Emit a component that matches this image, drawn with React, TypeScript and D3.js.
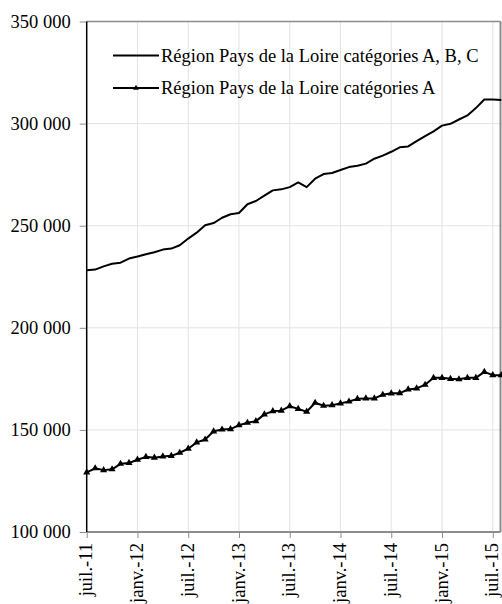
import * as d3 from "d3";
import { useEffect, useRef } from "react";

// monthly values, juil.-11 .. août-15
const months = [
  "juil.-11", "août-11", "sept.-11", "oct.-11", "nov.-11", "déc.-11",
  "janv.-12", "févr.-12", "mars-12", "avr.-12", "mai-12", "juin-12",
  "juil.-12", "août-12", "sept.-12", "oct.-12", "nov.-12", "déc.-12",
  "janv.-13", "févr.-13", "mars-13", "avr.-13", "mai-13", "juin-13",
  "juil.-13", "août-13", "sept.-13", "oct.-13", "nov.-13", "déc.-13",
  "janv.-14", "févr.-14", "mars-14", "avr.-14", "mai-14", "juin-14",
  "juil.-14", "août-14", "sept.-14", "oct.-14", "nov.-14", "déc.-14",
  "janv.-15", "févr.-15", "mars-15", "avr.-15", "mai-15", "juin-15",
  "juil.-15", "août-15",
];

const serieABC = [
  228200, 228500, 230100, 231400, 231900, 233900, 234900, 236000, 237000, 238300,
  238800, 240400, 243700, 246600, 250200, 251300, 253900, 255600, 256200, 260500,
  262100, 264700, 267300, 267800, 268900, 271200, 268900, 273000, 275300, 275800,
  277300, 278700, 279400, 280400, 282800, 284300, 286200, 288400, 288800, 291400,
  293900, 296200, 299000, 299900, 302000, 304000, 307600, 311800, 311800, 311500,
];

const serieA = [
  129200, 131200, 130300, 130700, 133400, 133800, 135400, 136800, 136400, 137000,
  137300, 138800, 140800, 143900, 145300, 149300, 150200, 150400, 152300, 153500,
  154300, 157600, 159200, 159400, 161600, 160300, 158900, 163300, 161800, 162100,
  163000, 163900, 165200, 165400, 165400, 167200, 167900, 168000, 169800, 170300,
  172100, 175500, 175500, 175000, 174800, 175500, 175500, 178400, 176800, 176800,
];

const yTicks = [100000, 150000, 200000, 250000, 300000, 350000];
const legendLabels = [
  "Région Pays de la Loire catégories A, B, C",
  "Région Pays de la Loire catégories A",
];

const W = 502;
const H = 604;
const font = "'Liberation Serif', 'Times New Roman', serif";
const fontSize = 18.5;

const App = () => {
  const svgRef = useRef<SVGSVGElement>(null);

  useEffect(() => {
    const svg = d3.select(svgRef.current);
    svg.selectAll("*").remove();

    const left = 86.7;
    const top = 21.5;
    const right = 500.5;
    const bottom = 532;

    const x = d3.scaleLinear().domain([0, months.length - 1]).range([left, left + 49 * 8.46]);
    const y = d3.scaleLinear().domain([100000, 350000]).range([bottom, top]);

    const xTicks = d3.range(0, months.length, 6);
    const fmt = (v: number) => d3.format(",")(v).replace(/,/g, " ");

    // gridlines
    svg.append("g")
      .selectAll("line")
      .data(xTicks.slice(1))
      .join("line")
      .attr("x1", (d) => x(d)).attr("x2", (d) => x(d))
      .attr("y1", top).attr("y2", bottom)
      .attr("stroke", "#e3e3e3").attr("stroke-width", 1);

    svg.append("g")
      .selectAll("line")
      .data(yTicks.slice(1, -1))
      .join("line")
      .attr("x1", left).attr("x2", right)
      .attr("y1", (d) => y(d)).attr("y2", (d) => y(d))
      .attr("stroke", "#e3e3e3").attr("stroke-width", 1);

    // plot frame
    svg.append("line").attr("x1", left).attr("x2", right).attr("y1", top).attr("y2", top)
      .attr("stroke", "#8c8c8c").attr("stroke-width", 1.5);
    svg.append("line").attr("x1", right).attr("x2", right).attr("y1", top).attr("y2", bottom)
      .attr("stroke", "#8c8c8c").attr("stroke-width", 2);
    svg.append("line").attr("x1", left).attr("x2", right).attr("y1", bottom).attr("y2", bottom)
      .attr("stroke", "#8c8c8c").attr("stroke-width", 2);

    // y axis
    const yAxis = svg.append("g").attr("transform", `translate(${left},0)`)
      .call(d3.axisLeft(y).tickValues(yTicks).tickSize(7).tickFormat((d) => fmt(d as number)));
    yAxis.attr("font-family", null).attr("font-size", null);
    yAxis.select(".domain").remove();
    yAxis.selectAll(".tick line").attr("stroke", "#8c8c8c");
    yAxis.selectAll(".tick text")
      .attr("x", -16)
      .style("font-family", font).style("font-size", `${fontSize}px`).attr("fill", "#000");
    svg.append("line").attr("x1", left).attr("x2", left).attr("y1", top).attr("y2", bottom)
      .attr("stroke", "#000").attr("stroke-width", 1.5);

    // x axis
    const xAxis = svg.append("g").attr("transform", `translate(0,${bottom})`)
      .call(d3.axisBottom(x).tickValues(xTicks).tickSize(6).tickFormat((d) => months[d as number]));
    xAxis.attr("font-family", null).attr("font-size", null);
    xAxis.select(".domain").remove();
    xAxis.selectAll(".tick line").attr("stroke", "#8c8c8c");
    xAxis.selectAll(".tick text")
      .attr("transform", "rotate(-90)")
      .attr("x", -11).attr("y", 0).attr("dy", "0.28em")
      .attr("text-anchor", "end")
      .style("font-family", font).style("font-size", `${fontSize}px`).attr("fill", "#000");

    const line = d3.line<number>().x((_, i) => x(i)).y((d) => y(d));
    const tri = d3.symbol().type(d3.symbolTriangle).size(22);

    svg.append("path").datum(serieABC)
      .attr("fill", "none").attr("stroke", "#000").attr("stroke-width", 2)
      .attr("stroke-linejoin", "round").attr("d", line);

    svg.append("path").datum(serieA)
      .attr("fill", "none").attr("stroke", "#000").attr("stroke-width", 2)
      .attr("stroke-linejoin", "round").attr("d", line);

    svg.append("g").selectAll("path")
      .data(serieA)
      .join("path")
      .attr("transform", (d, i) => `translate(${x(i)},${y(d)})`)
      .attr("d", tri).attr("fill", "#000");

    // legend
    const lg = svg.append("g");
    legendLabels.forEach((label, i) => {
      const ly = 55.5 + i * 32.5;
      lg.append("line").attr("x1", 113).attr("x2", 159).attr("y1", ly).attr("y2", ly)
        .attr("stroke", "#000").attr("stroke-width", 2);
      if (i === 1) {
        lg.append("path").attr("transform", `translate(136,${ly})`)
          .attr("d", d3.symbol().type(d3.symbolTriangle).size(14)).attr("fill", "#000");
      }
      lg.append("text").attr("x", 161).attr("y", ly).attr("dy", "0.35em")
        .style("font-family", font).style("font-size", `${fontSize}px`).attr("fill", "#000")
        .text(label);
    });
  }, []);

  return (
    <svg
      ref={svgRef}
      width={W}
      height={H}
      style={{ position: "absolute", left: 0, top: 0, background: "#fff" }}
    />
  );
};

export default App;
